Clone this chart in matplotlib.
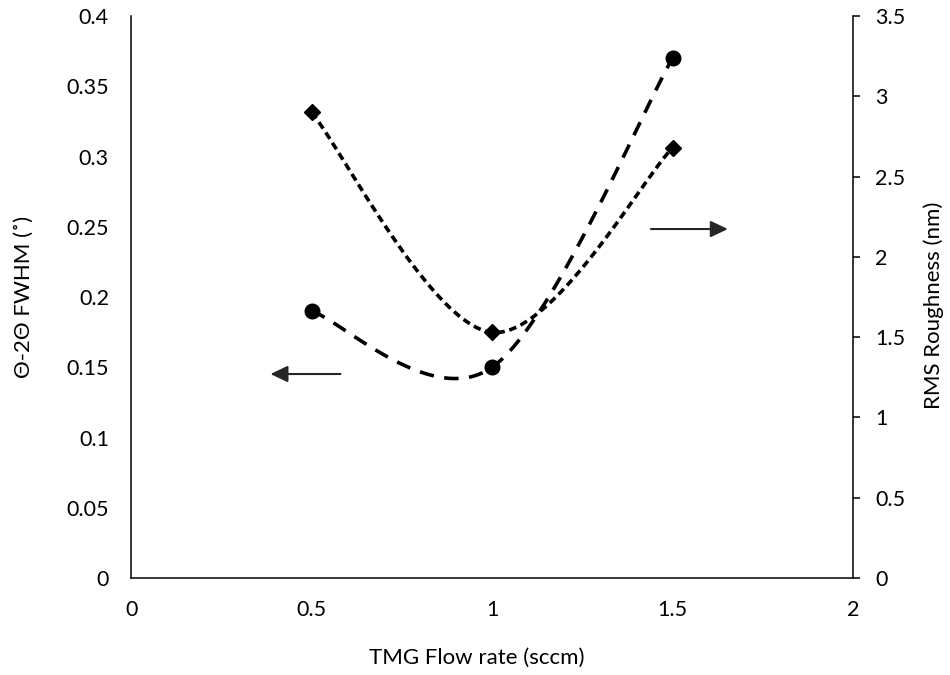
import numpy as np
import matplotlib
matplotlib.use('Agg')
import matplotlib.pyplot as plt

# data
flow = [0.5, 1.0, 1.5]
fwhm = [0.19, 0.15, 0.37]          # left axis, circles
rms = [2.90, 1.53, 2.68]           # right axis, diamonds

x_ticks = [0, 0.5, 1, 1.5, 2]
x_labels = ['0', '0.5', '1', '1.5', '2']
left_ticks = [0, 0.05, 0.1, 0.15, 0.2, 0.25, 0.3, 0.35, 0.4]
left_labels = ['0', '0.05', '0.1', '0.15', '0.2', '0.25', '0.3', '0.35', '0.4']
right_ticks = [0, 0.5, 1, 1.5, 2, 2.5, 3, 3.5]
right_labels = ['0', '0.5', '1', '1.5', '2', '2.5', '3', '3.5']

plt.rcParams['font.family'] = ['Lato', 'DejaVu Sans']
FS = 15.5
LFS = 16


def smooth(xs, ys, n=60):
    # Excel-style smoothed line (Catmull-Rom as cubic Bezier)
    p = np.column_stack([xs, ys]).astype(float)
    m = len(p)
    out = []
    for i in range(m - 1):
        p0 = p[max(i - 1, 0)]
        p1, p2 = p[i], p[i + 1]
        p3 = p[min(i + 2, m - 1)]
        c1 = p1 + (p2 - p0) / 6
        c2 = p2 - (p3 - p1) / 6
        t = np.linspace(0, 1, n)[:, None]
        seg = ((1 - t) ** 3) * p1 + 3 * ((1 - t) ** 2) * t * c1 + 3 * (1 - t) * t ** 2 * c2 + t ** 3 * p2
        out.append(seg if i == 0 else seg[1:])
    out = np.vstack(out)
    return out[:, 0], out[:, 1]


fig = plt.figure(figsize=(9.5, 6.75), dpi=100)
ax = fig.add_axes([0.138, 0.1437, 0.760, 0.8325])
ax2 = ax.twinx()

sx, sy = smooth(flow, fwhm)
ax.plot(sx, sy, color='black', lw=2.6, dashes=(4.0, 2.9), dash_capstyle='butt')
ax.plot(flow, fwhm, 'o', color='black', ms=10.5)

rx, ry = smooth(flow, rms)
ax2.plot(rx, ry, color='black', lw=2.6, dashes=(2.1, 1.3), dash_capstyle='butt')
ax2.plot(flow, rms, 'D', color='black', ms=8.5)

ax.set_xlim(0, 2)
ax.set_ylim(0, 0.4)
ax2.set_ylim(0, 3.5)

ax.set_xticks(x_ticks, x_labels)
ax.set_yticks(left_ticks, left_labels)
ax2.set_yticks(right_ticks, right_labels)

ax.tick_params(axis='x', length=0, labelsize=FS, pad=16)
ax.tick_params(axis='y', length=0, labelsize=FS, pad=16)
ax2.tick_params(axis='y', length=5, width=1.1, labelsize=FS, pad=11, direction='out')

for a in (ax, ax2):
    a.spines['top'].set_visible(False)
    for s in a.spines.values():
        s.set_linewidth(1.1)
ax.spines['right'].set_visible(False)
ax2.spines['left'].set_visible(False)
ax2.spines['bottom'].set_visible(False)

ax.set_xlabel('TMG Flow rate (sccm)', fontsize=LFS, va='center')
ax.xaxis.set_label_coords(0.479, -0.142)
ax.set_ylabel('Θ-2Θ FWHM (˚)', fontsize=LFS, va='center')
ax.yaxis.set_label_coords(-0.149, 0.5)
ax2.set_ylabel('RMS Roughness (nm)', fontsize=LFS, va='center')
ax2.yaxis.set_label_coords(1.111, 0.486)

# direction arrows
arrow = dict(arrowstyle='-|>,head_length=1.05,head_width=0.5', mutation_scale=10,
             color='#262626', lw=1.5, shrinkA=0, shrinkB=0)
ax.annotate('', xy=(0.386, 0.1452), xytext=(0.58, 0.1452), arrowprops=arrow)
ax.annotate('', xy=(1.653, 0.2484), xytext=(1.44, 0.2484), arrowprops=arrow)

fig.savefig('out.png', dpi=100)
